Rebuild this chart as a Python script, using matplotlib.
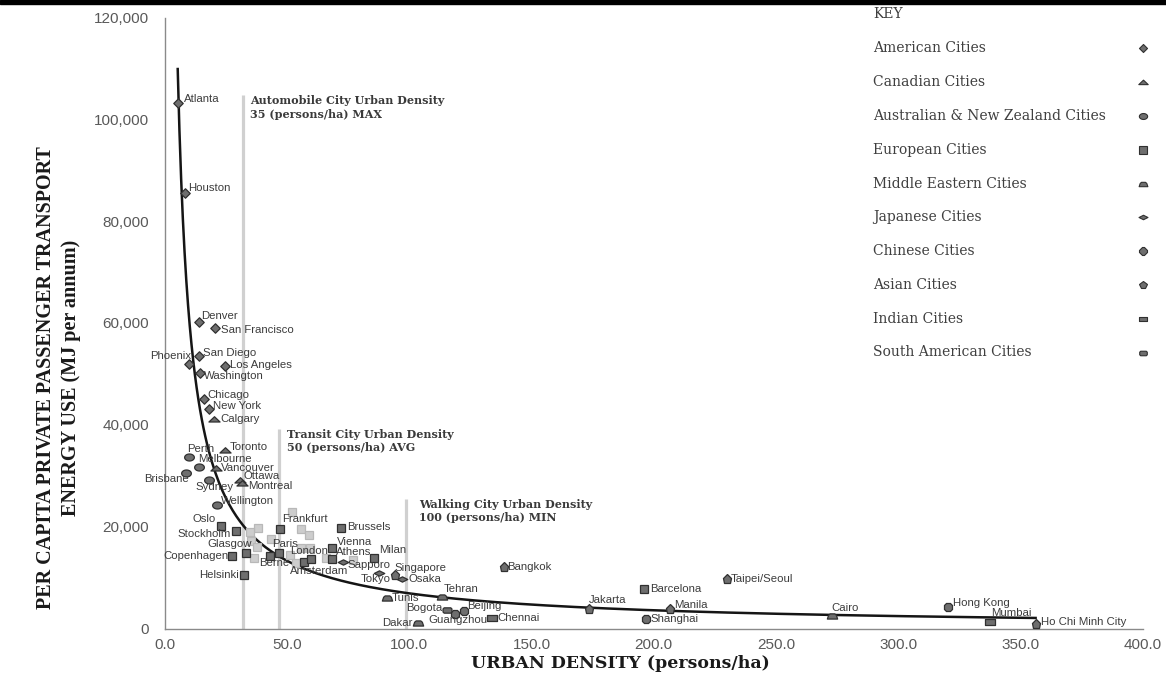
import matplotlib
matplotlib.use("Agg")
import matplotlib.pyplot as plt
import numpy as np
from matplotlib.path import Path
from matplotlib.patches import Rectangle
from matplotlib.ticker import FuncFormatter, MultipleLocator

# urban density (persons/ha) and private passenger transport energy (MJ per capita)
american_cities = ["Atlanta", "Houston", "Denver", "San Francisco", "San Diego", "Phoenix",
                   "Los Angeles", "Washington", "Chicago", "New York"]
american_density = [5.4, 8.2, 14.3, 20.6, 14.3, 9.9, 24.9, 14.6, 16.1, 18.1]
american_energy = [103300, 85500, 60100, 59000, 53500, 52000, 51500, 50200, 45000, 43200]

canadian_cities = ["Calgary", "Toronto", "Vancouver", "Ottawa", "Montreal"]
canadian_density = [20.2, 24.9, 20.9, 30.7, 31.8]
canadian_energy = [41100, 35000, 31600, 29100, 28600]

aus_nz_cities = ["Perth", "Melbourne", "Brisbane", "Sydney", "Wellington"]
aus_nz_density = [9.9, 14.0, 8.6, 18.1, 21.6]
aus_nz_energy = [33700, 31800, 30600, 29100, 24200]

european_cities = ["Oslo", "Stockholm", "Frankfurt", "Brussels", "Copenhagen", "Glasgow", "Helsinki",
                   "Berne", "Paris", "Amsterdam", "London", "Vienna", "Athens", "Milan", "Barcelona"]
european_density = [23.2, 29.3, 47.3, 72.0, 27.6, 33.4, 32.7, 43.2, 47.0, 56.9, 60.0, 68.6, 68.6, 85.5, 196.0]
european_energy = [20100, 19100, 19600, 19700, 14200, 14900, 10500, 14200, 14900, 13100, 13600,
                   15900, 13600, 13900, 7800]

# unlabelled (light grey) european cities
other_density = [52.2, 38.2, 34.8, 55.9, 58.9, 35.5, 43.6, 37.8, 55.9, 59.3, 36.4, 51.1, 53.6, 66.1, 77.0]
other_energy = [22900, 19700, 19000, 19600, 18300, 17200, 17500, 16000, 15900, 15900, 13900,
                14500, 12900, 13900, 13400]

middle_east_cities = ["Tunis", "Tehran", "Dakar", "Cairo"]
middle_east_density = [91.1, 113.4, 103.6, 273.0]
middle_east_energy = [5900, 6200, 1000, 2400]

japanese_cities = ["Sapporo", "Tokyo", "Osaka"]
japanese_density = [72.9, 87.5, 97.2]
japanese_energy = [13100, 10900, 9800]

chinese_cities = ["Guangzhou", "Beijing", "Shanghai", "Hong Kong"]
chinese_density = [118.9, 122.4, 197.0, 320.4]
chinese_energy = [2900, 3500, 1800, 4300]

asian_cities = ["Singapore", "Bangkok", "Jakarta", "Manila", "Taipei/Seoul", "Ho Chi Minh City"]
asian_density = [94.1, 138.7, 173.4, 206.5, 230.1, 356.1]
asian_energy = [10500, 12000, 3900, 3900, 9800, 900]

indian_cities = ["Chennai", "Mumbai"]
indian_density = [133.9, 337.4]
indian_energy = [2000, 1200]

south_american_cities = ["Bogota"]
south_american_density = [115.5]
south_american_energy = [3600]

threshold_density = [32.2, 46.8, 98.8]
threshold_top = [104700, 39200, 25500]
threshold_text = ["Automobile City Urban Density\n35 (persons/ha) MAX",
                  "Transit City Urban Density\n50 (persons/ha) AVG",
                  "Walking City Urban Density\n100 (persons/ha) MIN"]
threshold_text_x = [34.8, 50.2, 103.9]


def poly(verts):
    return Path(verts + [verts[0]], closed=True)


t = np.linspace(0, 2 * np.pi, 40)[:-1]
ellipse = poly(list(zip(np.cos(t), 0.72 * np.sin(t))))
flat_tri = poly([(-1, -0.45), (1, -0.45), (0, 0.5)])
dome = poly([(-1, -0.5), (1, -0.5), (0.75, 0.25), (0.45, 0.5), (-0.45, 0.5), (-0.75, 0.25)])
flat_diamond = poly([(-1, 0), (0, 0.5), (1, 0), (0, -0.5)])
diamond = poly([(0, 1), (1, 0), (0, -1), (-1, 0)])
wide_rect = poly([(-1, -0.6), (1, -0.6), (1, 0.6), (-1, 0.6)])
round_rect = poly([(-1, -0.35), (-0.75, -0.6), (0.75, -0.6), (1, -0.35),
                   (1, 0.35), (0.75, 0.6), (-0.75, 0.6), (-1, 0.35)])

# (key label, names, x, y, marker, size)
groups = [
    ("American Cities", american_cities, american_density, american_energy, diamond, 6.8),
    ("Canadian Cities", canadian_cities, canadian_density, canadian_energy, flat_tri, 8.0),
    ("Australian & New Zealand Cities", aus_nz_cities, aus_nz_density, aus_nz_energy, ellipse, 7.0),
    ("European Cities", european_cities, european_density, european_energy, "s", 6.2),
    ("Middle Eastern Cities", middle_east_cities, middle_east_density, middle_east_energy, dome, 7.4),
    ("Japanese Cities", japanese_cities, japanese_density, japanese_energy, flat_diamond, 7.6),
    ("Chinese Cities", chinese_cities, chinese_density, chinese_energy, "8", 6.6),
    ("Asian Cities", asian_cities, asian_density, asian_energy, "p", 6.8),
    ("Indian Cities", indian_cities, indian_density, indian_energy, wide_rect, 6.6),
    ("South American Cities", south_american_cities, south_american_density, south_american_energy,
     round_rect, 6.4),
]

# label offsets in pixels (dx, dy, ha); default is to the right of the marker
label_pos = {
    "Atlanta": (6, 4), "Houston": (4, 5), "Denver": (2, 6.6), "San Francisco": (6, -2),
    "San Diego": (4, 3.4), "Phoenix": (3, 8, "right"), "Los Angeles": (5, 1), "Washington": (4, -3),
    "Chicago": (3.4, 4.7), "New York": (4, 2.6), "Calgary": (6, 0.7), "Toronto": (4, 3.7),
    "Perth": (-1.6, 7.7), "Melbourne": (-1, 8), "Vancouver": (5.7, 0), "Brisbane": (3, -6.7, "right"),
    "Ottawa": (4.3, 4.3), "Montreal": (5.6, -3.4), "Sydney": (-13.6, -6.7), "Wellington": (4, 4.3),
    "Oslo": (-6, 6.7, "right"), "Stockholm": (-5, -2.3, "right"), "Glasgow": (5.6, 9, "right"),
    "Copenhagen": (-3.7, 0, "right"), "Helsinki": (-5.7, 0, "right"), "Frankfurt": (1.6, 9.3),
    "Brussels": (6.3, 0.7), "Paris": (-7.7, 9), "Berne": (-11.4, -7.3), "London": (-21, 8.3),
    "Amsterdam": (-14, -9.4), "Vienna": (5, 6), "Athens": (4, 7.7), "Milan": (5, 7.8),
    "Sapporo": (4.4, -3.4), "Tokyo": (-18, -6), "Singapore": (0, 7.4), "Osaka": (6.6, 0),
    "Tunis": (4.6, 0), "Dakar": (-5, 0.7, "right"), "Tehran": (2, 7.7), "Bogota": (-5, 1.7, "right"),
    "Guangzhou": (-27.4, -6.7), "Beijing": (3.4, 4.3), "Chennai": (5, 0.7), "Bangkok": (3.7, 0),
    "Jakarta": (0.3, 8.3), "Barcelona": (5.7, 0), "Shanghai": (4.3, 0.7), "Manila": (4.3, 3.3),
    "Taipei/Seoul": (3.3, 0), "Hong Kong": (4.4, 4), "Mumbai": (1.7, 9.4),
    "Ho Chi Minh City": (5, 1.6), "Cairo": (-1, 8.4),
}

W, H = 1166, 681
fig = plt.figure(figsize=(W / 100, H / 100), dpi=100)
ax = fig.add_axes([164.5 / W, 1 - 628.5 / H, (1143 - 164.5) / W, (628.5 - 17.5) / H])

fill = "#6e6e6e"
edge = "#303030"

# threshold lines + notes
for xv, top, txt, tx in zip(threshold_density, threshold_top, threshold_text, threshold_text_x):
    ax.plot([xv, xv], [0, top], color="#d0d0d0", lw=2.3, zorder=1, solid_capstyle="butt")
    ax.text(tx, top, txt, ha="left", va="top", fontsize=8, fontweight="bold",
            family="DejaVu Serif", color="#3a3a3a", linespacing=1.25)

# power trendline fitted to the labelled cities
all_x = np.concatenate([g[2] for g in groups])
all_y = np.concatenate([g[3] for g in groups])
b, lna = np.polyfit(np.log(all_x), np.log(all_y), 1)
xs = np.linspace(all_x.min(), all_x.max(), 500)
ax.plot(xs, np.exp(lna) * xs ** b, color="#151515", lw=1.8, zorder=2)

ax.plot(other_density, other_energy, linestyle="none", marker="s", markersize=6.2,
        markerfacecolor="#cdcdcd", markeredgecolor="#b8b8b8", markeredgewidth=0.9, zorder=2.5)

for key, names, xd, yd, mk, ms in groups:
    ax.plot(xd, yd, linestyle="none", marker=mk, markersize=ms, markerfacecolor=fill,
            markeredgecolor=edge, markeredgewidth=0.9, zorder=3)
    for n, xv, yv in zip(names, xd, yd):
        p = label_pos.get(n, (4, 3))
        ha = p[2] if len(p) > 2 else "left"
        ax.annotate(n, (xv, yv), xytext=(p[0], p[1]), textcoords="offset pixels", ha=ha,
                    va="center", fontsize=8.2, family="Liberation Sans", color="#3c3c3c", zorder=4)

ax.set_xlim(0, 400)
ax.set_ylim(0, 120000)
ax.xaxis.set_major_locator(MultipleLocator(50))
ax.yaxis.set_major_locator(MultipleLocator(20000))
ax.xaxis.set_major_formatter(FuncFormatter(lambda v, p: f"{v:.1f}"))
ax.yaxis.set_major_formatter(FuncFormatter(lambda v, p: f"{int(v):,}"))
ax.tick_params(axis="both", length=0, labelsize=11, labelcolor="#595959")
ax.tick_params(axis="y", pad=11)
ax.tick_params(axis="x", pad=7)
for lab in ax.get_xticklabels() + ax.get_yticklabels():
    lab.set_family("Liberation Sans")
for s in ["top", "right"]:
    ax.spines[s].set_visible(False)
for s in ["left", "bottom"]:
    ax.spines[s].set_color("#8a8a8a")
    ax.spines[s].set_linewidth(1.0)

fig.text(58.5 / W, 1 - 378 / H, "PER CAPITA PRIVATE PASSENGER TRANSPORT\nENERGY USE (MJ per annum)",
         rotation=90, ha="center", va="center", fontsize=14.5, fontweight="bold",
         family="Liberation Serif", color="#1a1a1a", linespacing=1.3)
fig.text(620 / W, 1 - 663 / H, "URBAN DENSITY (persons/ha)", ha="center", va="center",
         fontsize=12.5, fontweight="bold", family="DejaVu Serif", color="#1a1a1a")

# key
fig.text(873 / W, 1 - 14 / H, "KEY", ha="left", va="center", fontsize=10,
         family="DejaVu Serif", color="#3f3f3f")
for i, (key, names, xd, yd, mk, ms) in enumerate(groups):
    yk = 1 - (48.3 + i * 33.8) / H
    fig.text(873 / W, yk, key, ha="left", va="center", fontsize=10, family="DejaVu Serif",
             color="#3f3f3f")
    ax.plot([1143 / W], [yk], transform=fig.transFigure, clip_on=False, linestyle="none",
            marker=mk, markersize=ms * 0.85, markerfacecolor=fill, markeredgecolor=edge,
            markeredgewidth=0.8)

fig.add_artist(Rectangle((0, 1 - 4 / H), 1, 4 / H, transform=fig.transFigure, color="black"))

fig.savefig("out.png", dpi=100)
